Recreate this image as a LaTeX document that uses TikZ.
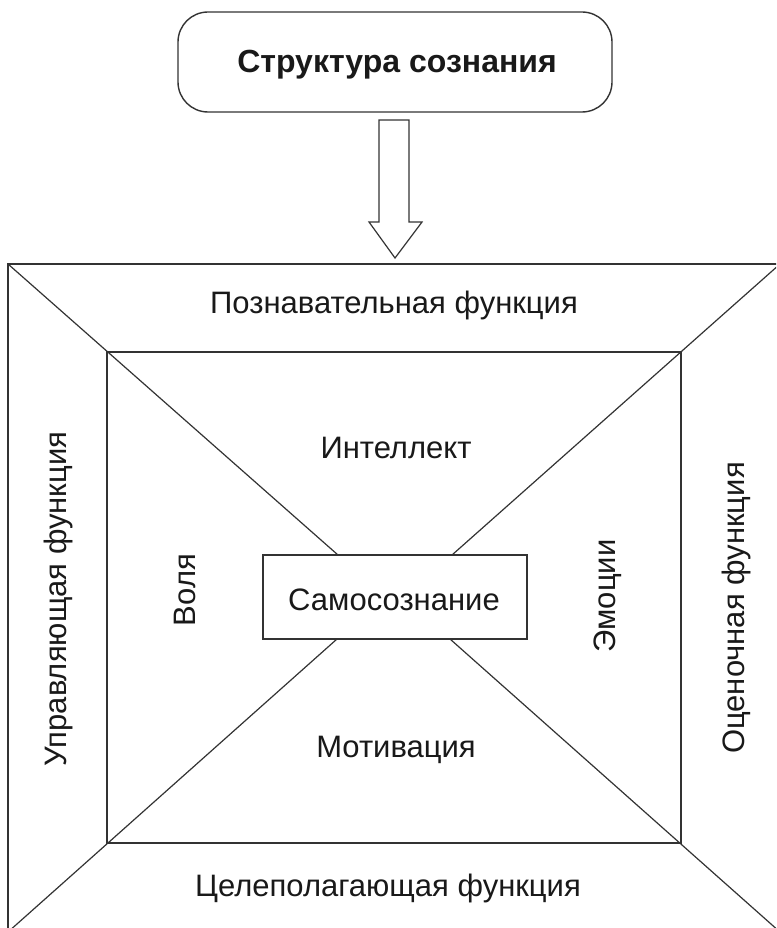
\documentclass[tikz,border=0pt]{standalone}
\usepackage{fontspec}
\setmainfont{Liberation Sans}
\begin{document}
\begin{tikzpicture}[x=1pt,y=-1pt,
  ln/.style={draw=black!80,line width=1.4pt},
  lbl/.style={font=\fontsize{31}{34}\selectfont,inner sep=0pt,anchor=base,text=black!90},
  vlbl/.style={lbl,rotate=90}]
\useasboundingbox (0,0) rectangle (776,928);
\clip (0,0) rectangle (776,928);
\fill[white] (0,0) rectangle (776,928);
% title
\node[ln,rounded corners=30pt,minimum width=434pt,minimum height=100pt,inner sep=0pt] (title) at (395,62) {};
\node[lbl,font=\fontsize{32}{35}\selectfont\bfseries] (titletext) at (397,73) {Структура сознания};
% block arrow
\coordinate (atip) at (395,258);
\draw[ln,line width=1.2pt,line join=miter] (379,120) -- (409,120) -- (409,222) -- (422,222) -- (atip) -- (369,222) -- (379,222) -- cycle;
% outer frame (right and bottom edges fall outside the picture)
\coordinate (OTL) at (8,264);
\coordinate (OTR) at (780,264);
\coordinate (OBL) at (8,932);
\coordinate (OBR) at (780,932);
\draw[ln] (OTL) rectangle (OBR);
% inner frame
\coordinate (ITL) at (107,352);
\coordinate (ITR) at (681,352);
\coordinate (IBL) at (107,843);
\coordinate (IBR) at (681,843);
\draw[ln] (ITL) rectangle (IBR);
% centre box
\node[ln,line width=1.2pt,minimum width=264pt,minimum height=84pt,inner sep=0pt] (self) at (395,597) {};
\node[lbl] (selftext) at (394,610) {Самосознание};
% diagonals
\coordinate (CTL) at (338,555);
\coordinate (CTR) at (452,555);
\coordinate (CBL) at (337,639);
\coordinate (CBR) at (450,639);
\draw[ln,line width=1.2pt] (OTL) -- (CTL);
\draw[ln,line width=1.2pt] (OTR) -- (CTR);
\draw[ln,line width=1.2pt] (OBL) -- (CBL);
\draw[ln,line width=1.2pt] (OBR) -- (CBR);
% labels
\node[lbl] (cog) at (394,313) {Познавательная функция};
\node[lbl] (intel) at (396,458) {Интеллект};
\node[lbl] (motiv) at (396,757) {Мотивация};
\node[lbl] (goal) at (388,896) {Целеполагающая функция};
\node[vlbl] (ctrl) at (66,599) {Управляющая функция};
\node[vlbl] (will) at (195,590) {Воля};
\node[vlbl] (emo) at (615,596) {Эмоции};
\node[vlbl] (eval) at (744,608) {Оценочная функция};
\end{tikzpicture}
\end{document}
